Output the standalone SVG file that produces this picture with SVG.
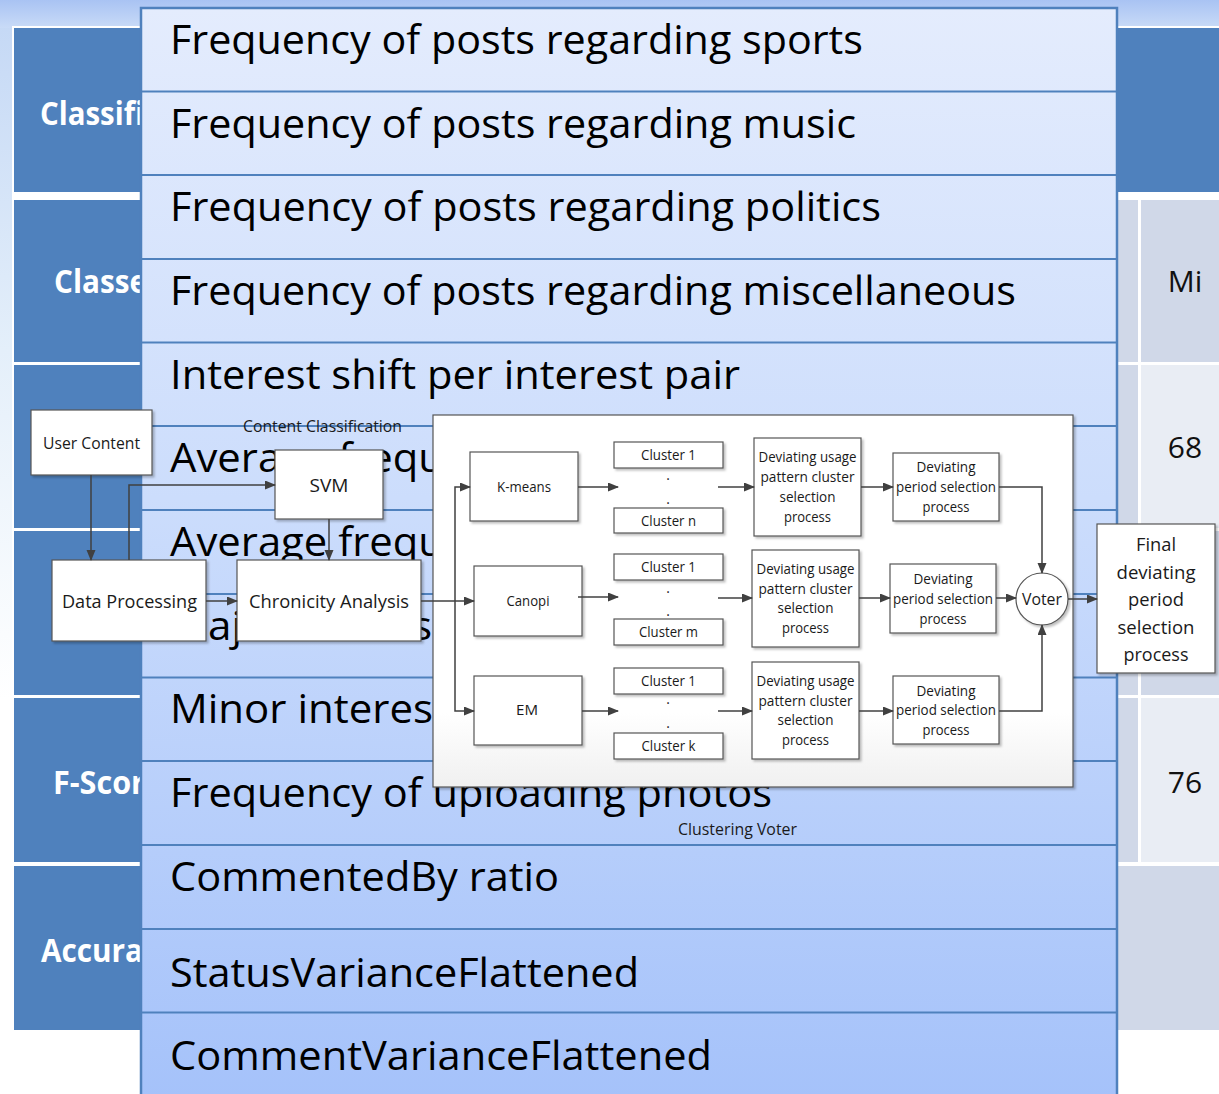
<svg xmlns="http://www.w3.org/2000/svg" width="1219" height="1094" viewBox="0 0 1219 1094">
  <defs>
    <linearGradient id="sky" x1="0" y1="0" x2="0" y2="1">
      <stop offset="0" stop-color="#A9C3F3"/>
      <stop offset="1" stop-color="#C9DBF7"/>
    </linearGradient>
    <linearGradient id="edge" x1="0" y1="0" x2="0" y2="1">
      <stop offset="0" stop-color="#C3D7F5"/>
      <stop offset="0.5" stop-color="#E4EFFA"/>
      <stop offset="1" stop-color="#FFFFFF"/>
    </linearGradient>
    <linearGradient id="panelFill" x1="0" y1="0" x2="0" y2="1">
      <stop offset="0" stop-color="#E4ECFD"/>
      <stop offset="0.45" stop-color="#CCDDFC"/>
      <stop offset="1" stop-color="#A5C2FA"/>
    </linearGradient>
    <linearGradient id="frameFill" x1="0" y1="0" x2="0" y2="1">
      <stop offset="0" stop-color="#FFFFFF"/>
      <stop offset="0.8" stop-color="#FFFFFF"/>
      <stop offset="1" stop-color="#F0F0F0"/>
    </linearGradient>
    <filter id="shadow" x="-10%" y="-10%" width="130%" height="130%">
      <feDropShadow dx="2" dy="2" stdDeviation="1" flood-color="#000" flood-opacity="0.25"/>
    </filter>
    <marker id="arrow" markerUnits="userSpaceOnUse" markerWidth="11" markerHeight="10" refX="10" refY="4.5" orient="auto">
      <path d="M0,0 L11,4.5 L0,9 z" fill="#404040"/>
    </marker>
    <clipPath id="tableClip">
      <rect x="0" y="0" width="141" height="1094"/>
    </clipPath>
  </defs>
  <style>
    .hdr { fill: #4F81BD; }
    .cellA { fill: #D0D8E8; }
    .cellB { fill: #E9EDF4; }
    .hdrText { font-family: "Open Sans", "Liberation Sans", sans-serif; font-weight: 700; font-size: 32px; fill: #FFFFFF; }
    .valText { font-family: "Open Sans", "Liberation Sans", sans-serif; font-size: 30px; fill: #111; text-anchor: middle; }
    .row { font-family: "Open Sans", "Liberation Sans", sans-serif; font-size: 40px; fill: #000; }
    .divider { stroke: #4F81BD; stroke-width: 2; }
    .box { fill: #FFFFFF; stroke: #555555; stroke-width: 1.2; filter: url(#shadow); }
    .lbl { font-family: "Open Sans", "Liberation Sans", sans-serif; fill: #1A1A1A; text-anchor: middle; }
    .s14 { font-size: 13.8px; }
    .s16 { font-size: 16px; }
    .s19 { font-size: 19px; }
    .wire { fill: none; stroke: #404040; stroke-width: 1.5; }
    .arr { marker-end: url(#arrow); }
  </style>

  <!-- page background -->
  <rect x="0" y="0" width="1219" height="1094" fill="#FFFFFF"/>
  <rect x="0" y="0" width="14" height="700" fill="url(#edge)"/>
  <rect x="0" y="0" width="1219" height="28" fill="url(#sky)"/>

  <!-- results table behind the feature list -->
  <g id="results-table">
    <rect x="12" y="26" width="1207" height="1006" fill="#FFFFFF"/>
    <rect class="hdr" x="14" y="28" width="1205" height="164"/>
    <rect class="hdr" x="14" y="200" width="127" height="162"/>
    <rect class="hdr" x="14" y="365" width="127" height="163"/>
    <rect class="hdr" x="14" y="531" width="127" height="164"/>
    <rect class="hdr" x="14" y="698" width="127" height="164"/>
    <rect class="hdr" x="14" y="866" width="127" height="164"/>
    <g clip-path="url(#tableClip)">
      <text class="hdrText" x="40" y="125" textLength="104" lengthAdjust="spacingAndGlyphs">Classifi</text>
      <text class="hdrText" x="54" y="293" textLength="93" lengthAdjust="spacingAndGlyphs">Classe</text>
      <text class="hdrText" x="53" y="794" textLength="92" lengthAdjust="spacingAndGlyphs">F-Scor</text>
      <text class="hdrText" x="41" y="962" textLength="102" lengthAdjust="spacingAndGlyphs">Accura</text>
    </g>
    <rect class="cellA" x="1117" y="200" width="21" height="162"/>
    <rect class="cellA" x="1141" y="200" width="78" height="162"/>
    <rect class="cellA" x="1117" y="365" width="21" height="163"/>
    <rect class="cellB" x="1141" y="365" width="78" height="163"/>
    <rect class="cellA" x="1117" y="531" width="21" height="164"/>
    <rect class="cellA" x="1141" y="531" width="78" height="164"/>
    <rect class="cellA" x="1117" y="698" width="21" height="164"/>
    <rect class="cellB" x="1141" y="698" width="78" height="164"/>
    <rect class="cellA" x="1117" y="866" width="102" height="164"/>
    <text class="valText" x="1185" y="292">Mi</text>
    <text class="valText" x="1185" y="458">68</text>
    <text class="valText" x="1185" y="793">76</text>
  </g>

  <!-- feature list panel -->
  <g id="feature-list">
    <rect x="141" y="8" width="976" height="1090" fill="url(#panelFill)" stroke="#4F81BD" stroke-width="2.5"/>
    <line class="divider" x1="142" y1="91.5" x2="1116" y2="91.5"/>
    <line class="divider" x1="142" y1="175" x2="1116" y2="175"/>
    <line class="divider" x1="142" y1="259" x2="1116" y2="259"/>
    <line class="divider" x1="142" y1="342.5" x2="1116" y2="342.5"/>
    <line class="divider" x1="142" y1="426" x2="1116" y2="426"/>
    <line class="divider" x1="142" y1="510" x2="1116" y2="510"/>
    <line class="divider" x1="142" y1="594" x2="1116" y2="594"/>
    <line class="divider" x1="142" y1="677.5" x2="1116" y2="677.5"/>
    <line class="divider" x1="142" y1="761" x2="1116" y2="761"/>
    <line class="divider" x1="142" y1="845" x2="1116" y2="845"/>
    <line class="divider" x1="142" y1="929" x2="1116" y2="929"/>
    <line class="divider" x1="142" y1="1012.5" x2="1116" y2="1012.5"/>
    <text class="row" x="170" y="54" textLength="693" lengthAdjust="spacingAndGlyphs">Frequency of posts regarding sports</text>
    <text class="row" x="170" y="138" textLength="686" lengthAdjust="spacingAndGlyphs">Frequency of posts regarding music</text>
    <text class="row" x="170" y="221" textLength="711" lengthAdjust="spacingAndGlyphs">Frequency of posts regarding politics</text>
    <text class="row" x="170" y="305" textLength="846" lengthAdjust="spacingAndGlyphs">Frequency of posts regarding miscellaneous</text>
    <text class="row" x="170" y="389" textLength="570" lengthAdjust="spacingAndGlyphs">Interest shift per interest pair</text>
    <text class="row" x="170" y="472" textLength="274" lengthAdjust="spacingAndGlyphs">Average frequ</text>
    <text class="row" x="170" y="556" textLength="274" lengthAdjust="spacingAndGlyphs">Average frequ</text>
    <text class="row" x="170" y="640" textLength="262" lengthAdjust="spacingAndGlyphs">Major interes</text>
    <text class="row" x="170" y="723" textLength="263" lengthAdjust="spacingAndGlyphs">Minor interes</text>
    <text class="row" x="170" y="807" textLength="602" lengthAdjust="spacingAndGlyphs">Frequency of uploading photos</text>
    <text class="row" x="170" y="891" textLength="389" lengthAdjust="spacingAndGlyphs">CommentedBy ratio</text>
    <text class="row" x="170" y="987" textLength="469" lengthAdjust="spacingAndGlyphs">StatusVarianceFlattened</text>
    <text class="row" x="170" y="1070" textLength="542" lengthAdjust="spacingAndGlyphs">CommentVarianceFlattened</text>
  </g>

  <!-- clustering voter frame -->
  <g id="clustering-voter">
    <rect x="433" y="415" width="640" height="372" fill="url(#frameFill)" stroke="#555555" stroke-width="1.2" filter="url(#shadow)"/>
  </g>

  <!-- content classification nodes -->
  <g id="user-content">
    <rect class="box" x="31" y="410" width="121" height="65"/>
    <text class="lbl s16" x="91.5" y="449" textLength="97" lengthAdjust="spacingAndGlyphs">User Content</text>
  </g>
  <g id="svm">
    <rect class="box" x="275" y="450" width="108" height="69"/>
    <text class="lbl" x="329" y="492" font-size="18.5" textLength="39" lengthAdjust="spacingAndGlyphs">SVM</text>
  </g>
  <g id="data-processing">
    <rect class="box" x="52" y="560" width="154" height="81"/>
    <text class="lbl s19" x="129.5" y="608" textLength="135" lengthAdjust="spacingAndGlyphs">Data Processing</text>
  </g>
  <g id="chronicity-analysis">
    <rect class="box" x="237" y="560" width="184" height="81"/>
    <text class="lbl s19" x="329" y="608" textLength="160" lengthAdjust="spacingAndGlyphs">Chronicity Analysis</text>
  </g>

  <!-- clustering algorithms -->
  <g id="k-means">
    <rect class="box" x="470" y="452" width="108" height="69"/>
    <text class="lbl s14" x="524" y="492" textLength="54" lengthAdjust="spacingAndGlyphs">K-means</text>
  </g>
  <g id="canopi">
    <rect class="box" x="474" y="566" width="108" height="70"/>
    <text class="lbl s14" x="528" y="606" textLength="43" lengthAdjust="spacingAndGlyphs">Canopi</text>
  </g>
  <g id="em">
    <rect class="box" x="474" y="676" width="108" height="69"/>
    <text class="lbl s14" x="527" y="715" textLength="22" lengthAdjust="spacingAndGlyphs">EM</text>
  </g>

  <!-- cluster lists -->
  <g id="clusters-kmeans">
    <rect class="box" x="614" y="442" width="109" height="26"/>
    <text class="lbl s14" x="668.5" y="460" textLength="55" lengthAdjust="spacingAndGlyphs">Cluster 1</text>
    <text class="lbl s14" x="668" y="480">.</text>
    <text class="lbl s14" x="668" y="504">.</text>
    <rect class="box" x="614" y="508" width="109" height="25"/>
    <text class="lbl s14" x="668.5" y="525.5" textLength="55" lengthAdjust="spacingAndGlyphs">Cluster n</text>
  </g>
  <g id="clusters-canopi">
    <rect class="box" x="614" y="554" width="109" height="26"/>
    <text class="lbl s14" x="668.5" y="572" textLength="55" lengthAdjust="spacingAndGlyphs">Cluster 1</text>
    <text class="lbl s14" x="668" y="593">.</text>
    <text class="lbl s14" x="668" y="616">.</text>
    <rect class="box" x="614" y="619" width="109" height="26"/>
    <text class="lbl s14" x="668.5" y="637" textLength="59" lengthAdjust="spacingAndGlyphs">Cluster m</text>
  </g>
  <g id="clusters-em">
    <rect class="box" x="614" y="668" width="109" height="26"/>
    <text class="lbl s14" x="668.5" y="686" textLength="55" lengthAdjust="spacingAndGlyphs">Cluster 1</text>
    <text class="lbl s14" x="668" y="704">.</text>
    <text class="lbl s14" x="668" y="728">.</text>
    <rect class="box" x="614" y="733" width="109" height="26"/>
    <text class="lbl s14" x="668.5" y="751" textLength="54" lengthAdjust="spacingAndGlyphs">Cluster k</text>
  </g>

  <!-- deviating usage pattern cluster selection -->
  <g id="usage-selection-1">
    <rect class="box" x="754" y="438" width="107" height="98"/>
    <text class="lbl s14" x="807.5" y="462" textLength="98" lengthAdjust="spacingAndGlyphs">Deviating usage</text>
    <text class="lbl s14" x="807.5" y="482" textLength="94" lengthAdjust="spacingAndGlyphs">pattern cluster</text>
    <text class="lbl s14" x="807.5" y="502" textLength="56" lengthAdjust="spacingAndGlyphs">selection</text>
    <text class="lbl s14" x="807.5" y="522" textLength="47" lengthAdjust="spacingAndGlyphs">process</text>
  </g>
  <g id="usage-selection-2">
    <rect class="box" x="752" y="550" width="107" height="97"/>
    <text class="lbl s14" x="805.5" y="574" textLength="98" lengthAdjust="spacingAndGlyphs">Deviating usage</text>
    <text class="lbl s14" x="805.5" y="594" textLength="94" lengthAdjust="spacingAndGlyphs">pattern cluster</text>
    <text class="lbl s14" x="805.5" y="613" textLength="56" lengthAdjust="spacingAndGlyphs">selection</text>
    <text class="lbl s14" x="805.5" y="633" textLength="47" lengthAdjust="spacingAndGlyphs">process</text>
  </g>
  <g id="usage-selection-3">
    <rect class="box" x="752" y="662" width="107" height="97"/>
    <text class="lbl s14" x="805.5" y="686" textLength="98" lengthAdjust="spacingAndGlyphs">Deviating usage</text>
    <text class="lbl s14" x="805.5" y="706" textLength="94" lengthAdjust="spacingAndGlyphs">pattern cluster</text>
    <text class="lbl s14" x="805.5" y="725" textLength="56" lengthAdjust="spacingAndGlyphs">selection</text>
    <text class="lbl s14" x="805.5" y="745" textLength="47" lengthAdjust="spacingAndGlyphs">process</text>
  </g>

  <!-- deviating period selection -->
  <g id="period-selection-1">
    <rect class="box" x="893" y="453" width="106" height="68"/>
    <text class="lbl s14" x="946" y="472" textLength="59" lengthAdjust="spacingAndGlyphs">Deviating</text>
    <text class="lbl s14" x="946" y="492" textLength="100" lengthAdjust="spacingAndGlyphs">period selection</text>
    <text class="lbl s14" x="946" y="512" textLength="47" lengthAdjust="spacingAndGlyphs">process</text>
  </g>
  <g id="period-selection-2">
    <rect class="box" x="890" y="564" width="106" height="69"/>
    <text class="lbl s14" x="943" y="584" textLength="59" lengthAdjust="spacingAndGlyphs">Deviating</text>
    <text class="lbl s14" x="943" y="604" textLength="100" lengthAdjust="spacingAndGlyphs">period selection</text>
    <text class="lbl s14" x="943" y="624" textLength="47" lengthAdjust="spacingAndGlyphs">process</text>
  </g>
  <g id="period-selection-3">
    <rect class="box" x="893" y="676" width="106" height="68"/>
    <text class="lbl s14" x="946" y="696" textLength="59" lengthAdjust="spacingAndGlyphs">Deviating</text>
    <text class="lbl s14" x="946" y="715" textLength="100" lengthAdjust="spacingAndGlyphs">period selection</text>
    <text class="lbl s14" x="946" y="735" textLength="47" lengthAdjust="spacingAndGlyphs">process</text>
  </g>

  <g id="voter">
    <circle cx="1042" cy="599" r="26" fill="#FFFFFF" stroke="#555555" stroke-width="1.2" filter="url(#shadow)"/>
    <text class="lbl" x="1042" y="605" font-size="15.8" textLength="40" lengthAdjust="spacingAndGlyphs">Voter</text>
  </g>

  <g id="final-selection">
    <rect class="box" x="1097" y="524" width="118" height="149"/>
    <text class="lbl s19" x="1156" y="551" textLength="40" lengthAdjust="spacingAndGlyphs">Final</text>
    <text class="lbl s19" x="1156" y="579" textLength="79" lengthAdjust="spacingAndGlyphs">deviating</text>
    <text class="lbl s19" x="1156" y="606" textLength="56" lengthAdjust="spacingAndGlyphs">period</text>
    <text class="lbl s19" x="1156" y="634" textLength="77" lengthAdjust="spacingAndGlyphs">selection</text>
    <text class="lbl s19" x="1156" y="661" textLength="65" lengthAdjust="spacingAndGlyphs">process</text>
  </g>

  <!-- connectors -->
  <g id="connectors">
    <line class="wire arr" x1="91" y1="475" x2="91" y2="560"/>
    <polyline class="wire arr" points="129,560 129,485 275,485"/>
    <line class="wire arr" x1="329" y1="519" x2="329" y2="560"/>
    <line class="wire arr" x1="206" y1="601" x2="237" y2="601"/>
    <line class="wire arr" x1="421" y1="601" x2="474" y2="601"/>
    <polyline class="wire arr" points="455,601 455,487 470,487"/>
    <polyline class="wire arr" points="455,601 455,711 474,711"/>
    <line class="wire arr" x1="578" y1="487" x2="618" y2="487"/>
    <line class="wire arr" x1="578" y1="597" x2="618" y2="597"/>
    <line class="wire arr" x1="582" y1="711" x2="618" y2="711"/>
    <line class="wire arr" x1="718" y1="487" x2="754" y2="487"/>
    <line class="wire arr" x1="718" y1="598" x2="752" y2="598"/>
    <line class="wire arr" x1="718" y1="711" x2="752" y2="711"/>
    <line class="wire arr" x1="861" y1="487" x2="893" y2="487"/>
    <line class="wire arr" x1="859" y1="598" x2="890" y2="598"/>
    <line class="wire arr" x1="859" y1="711" x2="893" y2="711"/>
    <polyline class="wire arr" points="999,487 1042,487 1042,573"/>
    <line class="wire arr" x1="996" y1="598" x2="1016" y2="598"/>
    <polyline class="wire arr" points="999,711 1042,711 1042,625"/>
    <line class="wire arr" x1="1068" y1="599" x2="1097" y2="599"/>
  </g>

  <!-- group captions -->
  <g id="captions">
    <text class="lbl s16" x="322.5" y="432" textLength="159" lengthAdjust="spacingAndGlyphs">Content Classification</text>
    <text class="lbl s16" x="737.5" y="835" textLength="119" lengthAdjust="spacingAndGlyphs">Clustering Voter</text>
  </g>
</svg>
